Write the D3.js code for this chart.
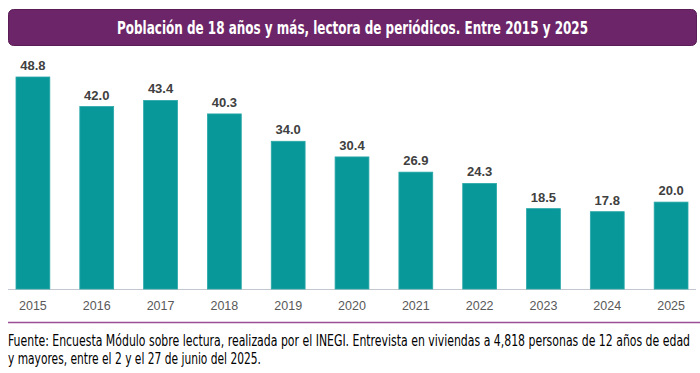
<!DOCTYPE html>
<html>
<head>
<meta charset="utf-8">
<script src="https://d3js.org/d3.v7.min.js"></script>
<style type="text/css">
body {margin:0;background:#fff;}
svg {display:block;}
.value {font-family:"Liberation Sans", Arial, sans-serif;font-weight:bold;font-size:13px;fill:#404040;}
.year {font-family:"Liberation Sans", Arial, sans-serif;font-size:12.5px;fill:#595959;}
.title {font-family:"DejaVu Sans Condensed", "Liberation Sans Narrow", sans-serif;font-stretch:condensed;font-weight:bold;font-size:18px;fill:#fff;}
.source {font-family:"DejaVu Sans Condensed", "Liberation Sans Narrow", sans-serif;font-stretch:condensed;font-size:15.5px;fill:#000;}
</style>
</head>
<body>
<svg id="chart" width="700" height="373"></svg>

<script type="text/javascript">
	var years = ["2015","2016","2017","2018","2019","2020","2021","2022","2023","2024","2025"];
	var values = [48.8, 42.0, 43.4, 40.3, 34.0, 30.4, 26.9, 24.3, 18.5, 17.8, 20.0];
	var title = "Población de 18 años y más, lectora de periódicos. Entre 2015 y 2025";
	var source = [
		"Fuente: Encuesta Módulo sobre lectura, realizada por el INEGI. Entrevista en viviendas a 4,818 personas de 12 años de edad",
		"y mayores, entre el 2 y el 27 de junio del 2025."
	];
	// widths the narrow font takes in the original
	var sourceWidths = [682, 253];

	var svg = d3.select("#chart");

	// title box
	svg.append("rect")
		.attr("x", 8.5).attr("y", 9.5)
		.attr("width", 688).attr("height", 36)
		.attr("rx", 5).attr("ry", 5)
		.attr("fill", "#6c2568")
		.attr("stroke", "#5a1d56")
		.attr("stroke-width", 1);
	svg.append("text")
		.attr("class", "title")
		.attr("x", 352.5).attr("y", 34)
		.attr("text-anchor", "middle")
		.attr("textLength", 471)
		.attr("lengthAdjust", "spacingAndGlyphs")
		.text(title);

	var x = d3.scaleBand()
		.domain(years)
		.range([1, 703])
		.paddingInner(0.47)
		.paddingOuter(0.235);

	var y = d3.scaleLinear()
		.domain([0, 48.8])
		.range([289, 77]);

	// baseline
	svg.append("line")
		.attr("x1", 8).attr("x2", 696)
		.attr("y1", 289.5).attr("y2", 289.5)
		.attr("stroke", "#c3c7cf")
		.attr("stroke-width", 1);

	svg.selectAll("rect.bar")
		.data(values)
		.enter().append("rect")
		.attr("class", "bar")
		.attr("x", function(d, i) { return x(years[i]); })
		.attr("width", x.bandwidth())
		.attr("y", function(d) { return y(d); })
		.attr("height", function(d) { return y(0) - y(d); })
		.attr("fill", "#099899")
		.attr("stroke", "#2aa7a8")
		.attr("stroke-width", 0.8);

	svg.selectAll("text.value")
		.data(values)
		.enter().append("text")
		.attr("class", "value")
		.attr("x", function(d, i) { return x(years[i]) + x.bandwidth() / 2; })
		.attr("y", function(d) { return y(d) - 7; })
		.attr("text-anchor", "middle")
		.text(function(d) { return d.toFixed(1); });

	var xAxis = svg.append("g")
		.attr("transform", "translate(0,289)")
		.call(d3.axisBottom(x).tickSize(0).tickPadding(12));
	xAxis.select(".domain").remove();
	xAxis.selectAll("text")
		.attr("class", "year")
		.attr("font-family", null)
		.attr("font-size", null)
		.attr("fill", null);

	// separator
	svg.append("line")
		.attr("x1", 8).attr("x2", 700)
		.attr("y1", 322.5).attr("y2", 322.5)
		.attr("stroke", "#9c4e97")
		.attr("stroke-width", 1.5);

	svg.selectAll("text.source")
		.data(source)
		.enter().append("text")
		.attr("class", "source")
		.attr("x", 8)
		.attr("y", function(d, i) { return 346 + i * 18; })
		.attr("textLength", function(d, i) { return sourceWidths[i]; })
		.attr("lengthAdjust", "spacingAndGlyphs")
		.text(function(d) { return d; });
</script>
</body>
</html>
